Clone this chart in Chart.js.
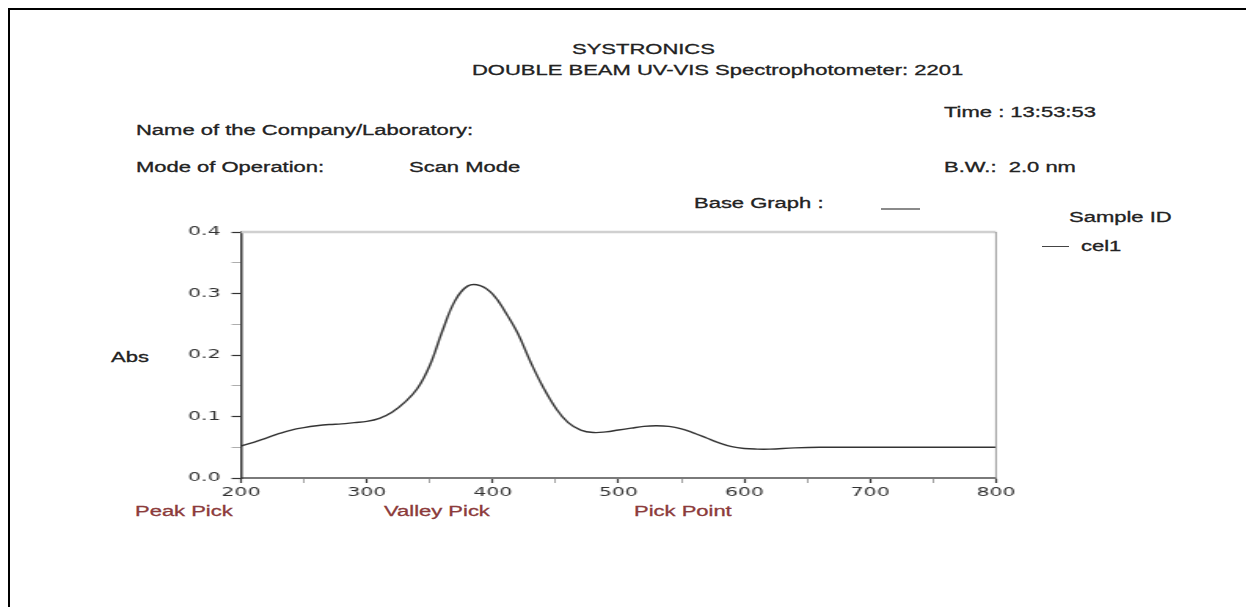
<!DOCTYPE html>
<html>
<head>
<meta charset="utf-8">
<script src="https://cdn.jsdelivr.net/npm/chart.js@4.4.1/dist/chart.umd.min.js"></script>
<style>
  html, body { margin: 0; padding: 0; background: #fff; overflow: hidden; }
  body { width: 1246px; height: 607px; position: relative; font-family: "Liberation Sans", Arial, sans-serif; color: #222; }
  .frame { position: absolute; left: 8px; top: 8px; width: 1270px; height: 630px; border: 2px solid #000; }
  .t { position: absolute; font-size: 14px; line-height: 16px; white-space: nowrap; -webkit-text-stroke: 0.3px currentColor; transform: scaleX(1.57); transform-origin: 0 50%; }
  .pick { color: #8c3b3b; }
  .ln { position: absolute; height: 0; }
  #wrap { position: absolute; left: 0; top: 0; width: 794px; height: 607px; transform: scaleX(1.57); transform-origin: 0 0; }
</style>
</head>
<body>
<div class="frame"></div>

<div class="t" style="left:572px; top:41px">SYSTRONICS</div>
<div class="t" style="left:472px; top:62px">DOUBLE BEAM UV-VIS Spectrophotometer: 2201</div>
<div class="t" style="left:944px; top:104px">Time : 13:53:53</div>
<div class="t" style="left:136px; top:122px">Name of the Company/Laboratory:</div>
<div class="t" style="left:136px; top:159px">Mode of Operation:</div>
<div class="t" style="left:409px; top:159px">Scan Mode</div>
<div class="t" style="left:944px; top:159px">B.W.:&nbsp; 2.0 nm</div>
<div class="t" style="left:694px; top:195px">Base Graph :</div>
<div class="ln" style="left:881px; top:208px; width:39px; border-top:2px solid #8a8a8a"></div>
<div class="t" style="left:1069px; top:209px">Sample ID</div>
<div class="ln" style="left:1042px; top:246px; width:27px; border-top:1px solid #444"></div>
<div class="t" style="left:1081px; top:238px">cel1</div>
<div class="t" style="left:111px; top:349px">Abs</div>
<div class="t pick" style="left:135px; top:503px">Peak Pick</div>
<div class="t pick" style="left:384px; top:503px">Valley Pick</div>
<div class="t pick" style="left:634px; top:503px">Pick Point</div>

<div id="wrap"><canvas id="grafico" width="794" height="607"></canvas></div>

<script>
// espectro (nm / Abs)
const wavelength = [200, 210, 220, 230, 240, 250, 260, 270, 280, 290, 300, 310, 320, 330, 340, 350,
  360, 370, 380, 390, 400, 410, 420, 430, 440, 450, 460, 470, 480, 490, 500, 510, 520, 530,
  540, 550, 560, 570, 580, 590, 600, 610, 620, 640, 660, 700, 750, 800];
const absorbance = [0.052, 0.058, 0.065, 0.072, 0.078, 0.082, 0.085, 0.087, 0.088, 0.090, 0.092,
  0.097, 0.107, 0.123, 0.145, 0.183, 0.239, 0.288, 0.312, 0.313, 0.299, 0.270, 0.235, 0.189,
  0.148, 0.114, 0.090, 0.078, 0.074, 0.075, 0.078, 0.081, 0.084, 0.085, 0.084, 0.080, 0.073, 0.065,
  0.057, 0.051, 0.048, 0.047, 0.047, 0.049, 0.050, 0.050, 0.050, 0.050];

// ejes
const xRange = [200, 800];
const yRange = [0, 0.4];
const xLabels = ['200', '300', '400', '500', '600', '700', '800'];
const yLabels = ['0.0', '0.1', '0.2', '0.3', '0.4'];

// marco gris arriba / derecha
const marco = {
  id: 'marco',
  afterDatasetsDraw(chart) {
    const { ctx, chartArea: { left, right, top, bottom } } = chart;
    ctx.save();
    ctx.strokeStyle = '#d0d0d0';
    ctx.lineWidth = 2.5;
    ctx.beginPath(); ctx.moveTo(left, top); ctx.lineTo(right, top); ctx.stroke();
    ctx.strokeStyle = '#9a9a9a';
    ctx.lineWidth = 1;
    ctx.beginPath(); ctx.moveTo(right, top); ctx.lineTo(right, bottom); ctx.stroke();
    ctx.restore();
  }
};

const tickFont = { family: 'DejaVu Sans', size: 13 };

new Chart(document.getElementById('grafico'), {
  type: 'line',
  data: {
    datasets: [{
      label: 'cel1',
      data: wavelength.map((w, i) => ({ x: w, y: absorbance[i] })),
      borderColor: '#333',
      borderWidth: 1.4,
      pointRadius: 0,
      fill: false,
      tension: 0.4
    }]
  },
  options: {
    responsive: false,
    animation: false,
    layout: { padding: { left: 101.5, right: 159.6, top: 232, bottom: 99 } },
    plugins: { legend: { display: false }, tooltip: { enabled: false } },
    scales: {
      x: {
        type: 'linear', min: xRange[0], max: xRange[1],
        afterFit: s => { s.height = 30; },
        ticks: {
          stepSize: 50, autoSkip: false, maxRotation: 0, padding: 2,
          color: '#333', font: tickFont,
          callback: v => xLabels.includes(String(v)) ? String(v) : ''
        },
        grid: {
          drawOnChartArea: false, tickLength: 5,
          tickColor: c => c.tick && c.tick.value % 100 === 0 ? '#333' : '#888',
          tickWidth: c => c.tick && c.tick.value % 100 === 0 ? 1.2 : 0.8
        },
        border: { color: '#7a7a7a', width: 2 }
      },
      y: {
        min: yRange[0], max: yRange[1],
        afterFit: s => { s.width = 52; },
        ticks: {
          stepSize: 0.05, autoSkip: false, padding: 7,
          color: '#333', font: tickFont,
          callback: v => { const t = v.toFixed(1); return Math.abs(v - Number(t)) < 1e-6 && yLabels.includes(t) ? t : ''; }
        },
        grid: {
          drawOnChartArea: false, tickLength: 6,
          tickColor: c => c.tick && Math.round(c.tick.value * 100) % 10 === 0 ? '#333' : '#999',
          tickWidth: c => c.tick && Math.round(c.tick.value * 100) % 10 === 0 ? 1.2 : 0.8
        },
        border: { color: '#333', width: 1.5 }
      }
    }
  },
  plugins: [marco]
});
</script>
</body>
</html>
